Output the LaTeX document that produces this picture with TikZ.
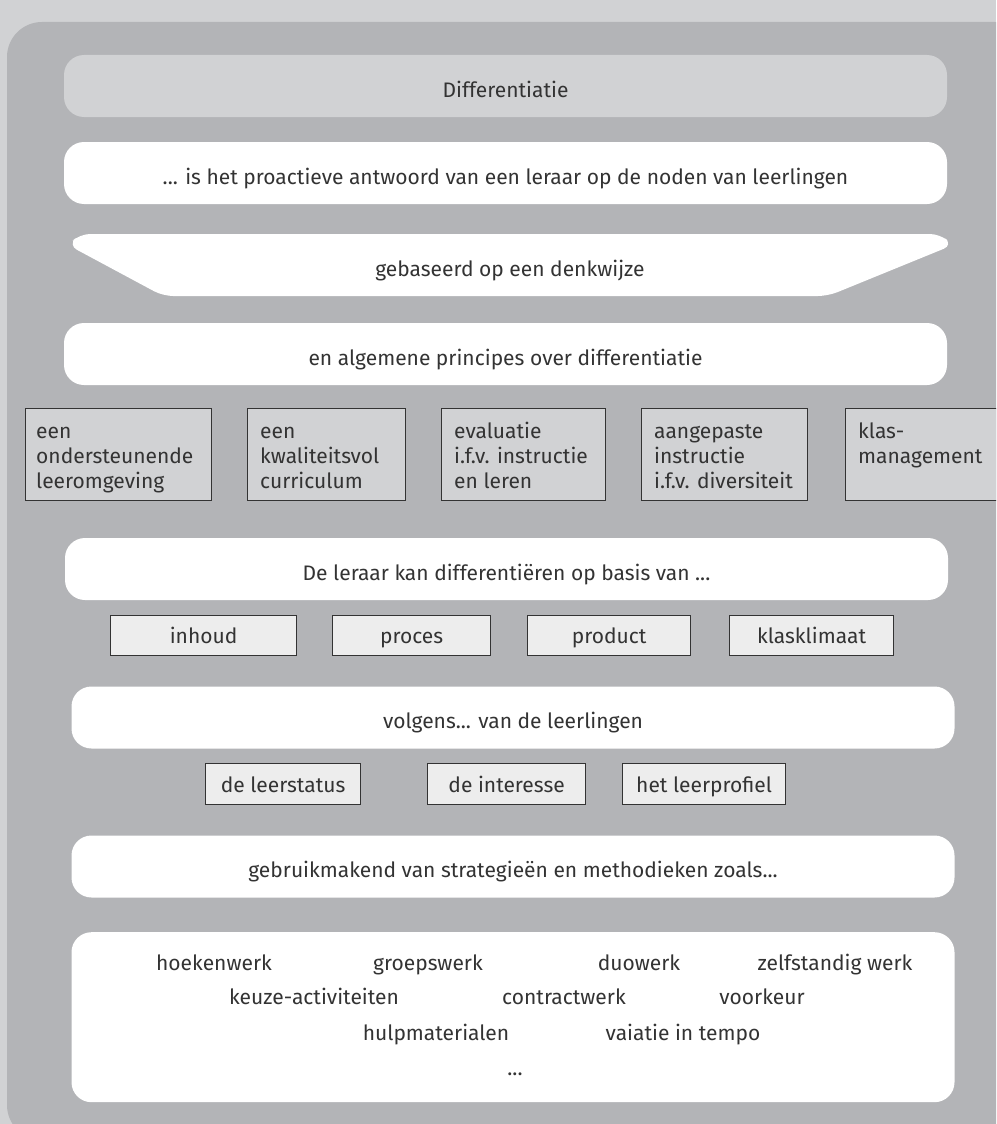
\documentclass[tikz,border=0pt]{standalone}
\usepackage{fontspec}
\setmainfont{Fira Sans}
\definecolor{bgl}{HTML}{D1D2D4}
\definecolor{bgd}{HTML}{B3B4B7}
\definecolor{boxl}{HTML}{EDEDED}
\definecolor{txt}{HTML}{333333}
\tikzset{
  pill/.style={fill=white, draw=none, rounded corners=20pt, minimum width=883pt, minimum height=62pt, inner sep=0pt, text=txt, font=\fontsize{21}{24}\selectfont, text height=22pt, text depth=0pt},
  pbox/.style={fill=bgl, draw=black!80, line width=1.2pt, anchor=north west, minimum height=92pt, inner sep=0pt},
  ptext/.style={anchor=north west, align=left, inner sep=0pt, text=txt, font=\fontsize{21}{25}\selectfont},
  sbox/.style={fill=boxl, draw=black!80, line width=1.2pt, anchor=north west, inner sep=0pt, text=txt, font=\fontsize{21}{24}\selectfont, text height=16pt, text depth=0pt},
  word/.style={inner sep=0pt, anchor=base, text=txt, font=\fontsize{21}{24}\selectfont}
}
\begin{document}
\begin{tikzpicture}[x=1pt,y=-1pt]
\useasboundingbox (0,0) rectangle (996,1124);
\clip (0,0) rectangle (996,1124);
\fill[bgl] (0,0) rectangle (996,1124);
\fill[bgd, rounded corners=35pt] (7,22) rectangle (1030,1140);
% title
\node[pill, fill=bgl] (t1) at (505.5,86) {Differentiatie};
\node[pill] (t2) at (505.5,173) {... is het proactieve antwoord van een leraar op de noden van leerlingen};
% trapezoid
\fill[white, rounded corners=10pt] (68,245) -- (80,234) -- (940,234) -- (953,245) -- (828,296) -- (163,296) -- cycle;
\node[word] (t3) at (510,276) {gebaseerd op een denkwijze};
\node[pill] (t4) at (505.5,354) {en algemene principes over differentiatie};
% principles
\node[pbox, minimum width=186pt] (p1) at (25,408) {};
\node[pbox, minimum width=158pt] (p2) at (247,408) {};
\node[pbox, minimum width=164pt] (p3) at (441,408) {};
\node[pbox, minimum width=166pt] (p4) at (641,408) {};
\node[pbox, minimum width=160pt] (p5) at (845,408) {};
\node[ptext] (p1t) at ([shift={(11pt,-12.5pt)}]p1.north west) {\strut een\\ondersteunende\\leeromgeving};
\node[ptext] (p2t) at ([shift={(13pt,-12.5pt)}]p2.north west) {\strut een\\kwaliteitsvol\\curriculum};
\node[ptext] (p3t) at ([shift={(13pt,-12.5pt)}]p3.north west) {\strut evaluatie\\i.f.v. instructie\\en leren};
\node[ptext] (p4t) at ([shift={(13pt,-12.5pt)}]p4.north west) {\strut aangepaste\\instructie\\i.f.v. diversiteit};
\node[ptext] (p5t) at ([shift={(13pt,-12.5pt)}]p5.north west) {\strut klas-\\management};
% basis
\node[pill] (t5) at (506.5,569) {De leraar kan differenti\"eren op basis van ...};
\node[sbox, minimum width=186pt, minimum height=40pt] (b1) at (110,615) {inhoud};
\node[sbox, minimum width=158pt, minimum height=40pt] (b2) at (332,615) {proces};
\node[sbox, minimum width=163pt, minimum height=40pt] (b3) at (527,615) {product};
\node[sbox, minimum width=164pt, minimum height=40pt] (b4) at (729,615) {klasklimaat};
% volgens
\node[pill] (t6) at (513,717.5) {volgens... van de leerlingen};
\node[sbox, minimum width=155pt, minimum height=41pt] (c1) at (205,763) {de leerstatus};
\node[sbox, minimum width=158pt, minimum height=41pt] (c2) at (427,763) {de interesse};
\node[sbox, minimum width=163pt, minimum height=41pt] (c3) at (622,763) {het leerprofiel};
% strategies
\node[pill] (t7) at (513,866.5) {gebruikmakend van strategie\"en en methodieken zoals...};
\node[pill, minimum height=170pt, anchor=north] (t8) at (513,932) {};
\node[word] (w1) at (214,970) {hoekenwerk};
\node[word] (w2) at (428,970) {groepswerk};
\node[word] (w3) at (639,970) {duowerk};
\node[word] (w4) at (835,970) {zelfstandig werk};
\node[word] (w5) at (314,1004) {keuze-activiteiten};
\node[word] (w6) at (564,1004) {contractwerk};
\node[word] (w7) at (762,1004) {voorkeur};
\node[word] (w8) at (436,1040) {hulpmaterialen};
\node[word] (w9) at (683,1040) {vaiatie in tempo};
\node[word] (w10) at (515,1075) {...};
\end{tikzpicture}
\end{document}
